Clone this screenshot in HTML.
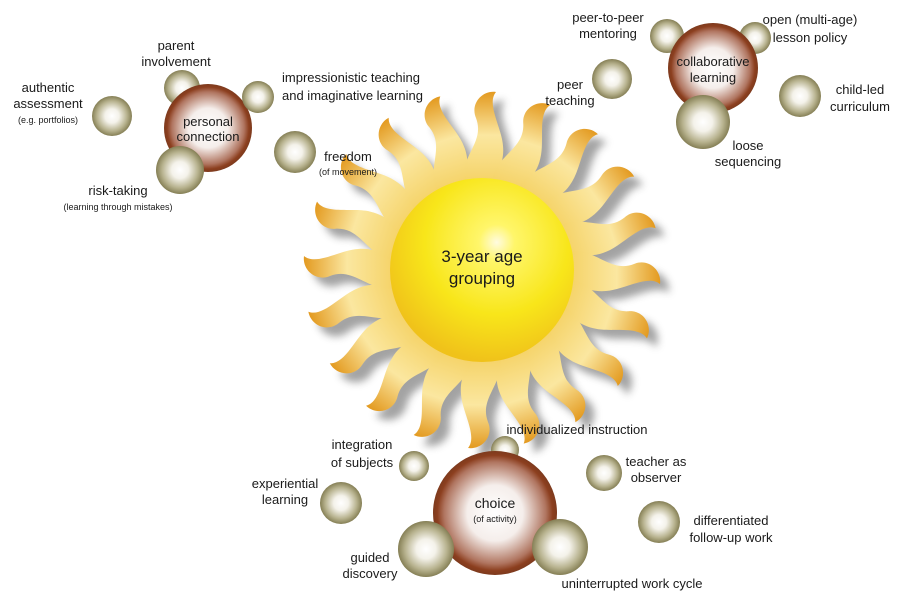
<!DOCTYPE html>
<html><head><meta charset="utf-8"><style>
html,body{margin:0;padding:0;background:#fff;}
svg{display:block;}
text{font-family:"Liberation Sans",sans-serif;fill:#1a1a1a;font-size:13px;}
.s{font-size:9px;}
</style></head><body>
<svg width="902" height="603" viewBox="0 0 902 603">
<defs>
<radialGradient id="ol" cx="50%" cy="50%" r="50%">
<stop offset="0" stop-color="#fff"/><stop offset="0.35" stop-color="#f4f2ea"/><stop offset="0.75" stop-color="#b7b28e"/><stop offset="1" stop-color="#857f55"/></radialGradient>
<radialGradient id="br" cx="50%" cy="50%" r="50%">
<stop offset="0" stop-color="#fff"/><stop offset="0.45" stop-color="#f5eeeb"/><stop offset="0.82" stop-color="#b07560"/><stop offset="0.93" stop-color="#8c3f1f"/><stop offset="1" stop-color="#7d3a1d"/></radialGradient>
<radialGradient id="sun" cx="58%" cy="35%" r="65%">
<stop offset="0" stop-color="#fffbe0"/><stop offset="0.15" stop-color="#fff66a"/><stop offset="0.6" stop-color="#f8e61a"/><stop offset="1" stop-color="#f0c21a"/></radialGradient>
<linearGradient id="ray" x1="0" y1="0" x2="0" y2="1">
<stop offset="0" stop-color="#e39a20"/><stop offset="0.45" stop-color="#fbe7a0"/><stop offset="1" stop-color="#f4d060"/></linearGradient>
<filter id="bl"><feGaussianBlur stdDeviation="4"/></filter>
<path id="r" d="M -17,-82 C -26,-112 4,-126 -6,-152 C -12,-166 0,-180 14,-178 C 4,-166 20,-142 21,-124 C 23,-104 11,-96 16,-82 Z"/>
</defs>
<g transform="translate(482,270)">
<g transform="translate(9,9)" fill="#666" opacity="0.6" filter="url(#bl)">
<use href="#r" transform="rotate(0)"/><use href="#r" transform="rotate(18)"/><use href="#r" transform="rotate(36)"/><use href="#r" transform="rotate(54)"/><use href="#r" transform="rotate(72)"/><use href="#r" transform="rotate(90)"/><use href="#r" transform="rotate(108)"/><use href="#r" transform="rotate(126)"/><use href="#r" transform="rotate(144)"/><use href="#r" transform="rotate(162)"/><use href="#r" transform="rotate(180)"/><use href="#r" transform="rotate(198)"/><use href="#r" transform="rotate(216)"/><use href="#r" transform="rotate(234)"/><use href="#r" transform="rotate(252)"/><use href="#r" transform="rotate(270)"/><use href="#r" transform="rotate(288)"/><use href="#r" transform="rotate(306)"/><use href="#r" transform="rotate(324)"/><use href="#r" transform="rotate(342)"/>
</g>
<g fill="url(#ray)">
<use href="#r" transform="rotate(0)"/><use href="#r" transform="rotate(18)"/><use href="#r" transform="rotate(36)"/><use href="#r" transform="rotate(54)"/><use href="#r" transform="rotate(72)"/><use href="#r" transform="rotate(90)"/><use href="#r" transform="rotate(108)"/><use href="#r" transform="rotate(126)"/><use href="#r" transform="rotate(144)"/><use href="#r" transform="rotate(162)"/><use href="#r" transform="rotate(180)"/><use href="#r" transform="rotate(198)"/><use href="#r" transform="rotate(216)"/><use href="#r" transform="rotate(234)"/><use href="#r" transform="rotate(252)"/><use href="#r" transform="rotate(270)"/><use href="#r" transform="rotate(288)"/><use href="#r" transform="rotate(306)"/><use href="#r" transform="rotate(324)"/><use href="#r" transform="rotate(342)"/>
</g>
<circle r="92" fill="url(#sun)"/>
</g>
<text x="482" y="262" text-anchor="middle" style="font-size:17px">3-year age</text>
<text x="482" y="284" text-anchor="middle" style="font-size:17px">grouping</text>

<circle cx="182" cy="88" r="18" fill="url(#ol)"/>
<circle cx="208" cy="128" r="44" fill="url(#br)"/>
<circle cx="258" cy="97" r="16" fill="url(#ol)"/>
<circle cx="112" cy="116" r="20" fill="url(#ol)"/>
<circle cx="180" cy="170" r="24" fill="url(#ol)"/>
<circle cx="295" cy="152" r="21" fill="url(#ol)"/>
<text x="208" y="126" text-anchor="middle">personal</text>
<text x="208" y="141" text-anchor="middle">connection</text>
<text x="176" y="50" text-anchor="middle">parent</text>
<text x="176" y="66" text-anchor="middle">involvement</text>
<text x="282" y="82">impressionistic teaching</text>
<text x="282" y="100">and imaginative learning</text>
<text x="48" y="92" text-anchor="middle">authentic</text>
<text x="48" y="108" text-anchor="middle">assessment</text>
<text x="48" y="123" text-anchor="middle" class="s">(e.g. portfolios)</text>
<text x="118" y="195" text-anchor="middle">risk-taking</text>
<text x="118" y="210" text-anchor="middle" class="s">(learning through mistakes)</text>
<text x="348" y="161" text-anchor="middle">freedom</text>
<text x="348" y="175" text-anchor="middle" class="s">(of movement)</text>

<circle cx="667" cy="36" r="17" fill="url(#ol)"/>
<circle cx="755" cy="38" r="16" fill="url(#ol)"/>
<circle cx="713" cy="68" r="45" fill="url(#br)"/>
<circle cx="612" cy="79" r="20" fill="url(#ol)"/>
<circle cx="800" cy="96" r="21" fill="url(#ol)"/>
<circle cx="703" cy="122" r="27" fill="url(#ol)"/>
<text x="713" y="66" text-anchor="middle">collaborative</text>
<text x="713" y="82" text-anchor="middle">learning</text>
<text x="608" y="22" text-anchor="middle">peer-to-peer</text>
<text x="608" y="38" text-anchor="middle">mentoring</text>
<text x="810" y="24" text-anchor="middle">open (multi-age)</text>
<text x="810" y="42" text-anchor="middle">lesson policy</text>
<text x="570" y="89" text-anchor="middle">peer</text>
<text x="570" y="105" text-anchor="middle">teaching</text>
<text x="860" y="94" text-anchor="middle">child-led</text>
<text x="860" y="111" text-anchor="middle">curriculum</text>
<text x="748" y="150" text-anchor="middle">loose</text>
<text x="748" y="166" text-anchor="middle">sequencing</text>

<circle cx="505" cy="450" r="14" fill="url(#ol)"/>
<circle cx="495" cy="513" r="62" fill="url(#br)"/>
<circle cx="414" cy="466" r="15" fill="url(#ol)"/>
<circle cx="341" cy="503" r="21" fill="url(#ol)"/>
<circle cx="426" cy="549" r="28" fill="url(#ol)"/>
<circle cx="560" cy="547" r="28" fill="url(#ol)"/>
<circle cx="604" cy="473" r="18" fill="url(#ol)"/>
<circle cx="659" cy="522" r="21" fill="url(#ol)"/>
<text x="495" y="508" text-anchor="middle" style="font-size:14px">choice</text>
<text x="495" y="522" text-anchor="middle" class="s">(of activity)</text>
<text x="577" y="434" text-anchor="middle">individualized instruction</text>
<text x="362" y="449" text-anchor="middle">integration</text>
<text x="362" y="467" text-anchor="middle">of subjects</text>
<text x="285" y="488" text-anchor="middle">experiential</text>
<text x="285" y="504" text-anchor="middle">learning</text>
<text x="370" y="562" text-anchor="middle">guided</text>
<text x="370" y="578" text-anchor="middle">discovery</text>
<text x="632" y="588" text-anchor="middle">uninterrupted work cycle</text>
<text x="656" y="466" text-anchor="middle">teacher as</text>
<text x="656" y="482" text-anchor="middle">observer</text>
<text x="731" y="525" text-anchor="middle">differentiated</text>
<text x="731" y="542" text-anchor="middle">follow-up work</text>
</svg>
</body></html>
